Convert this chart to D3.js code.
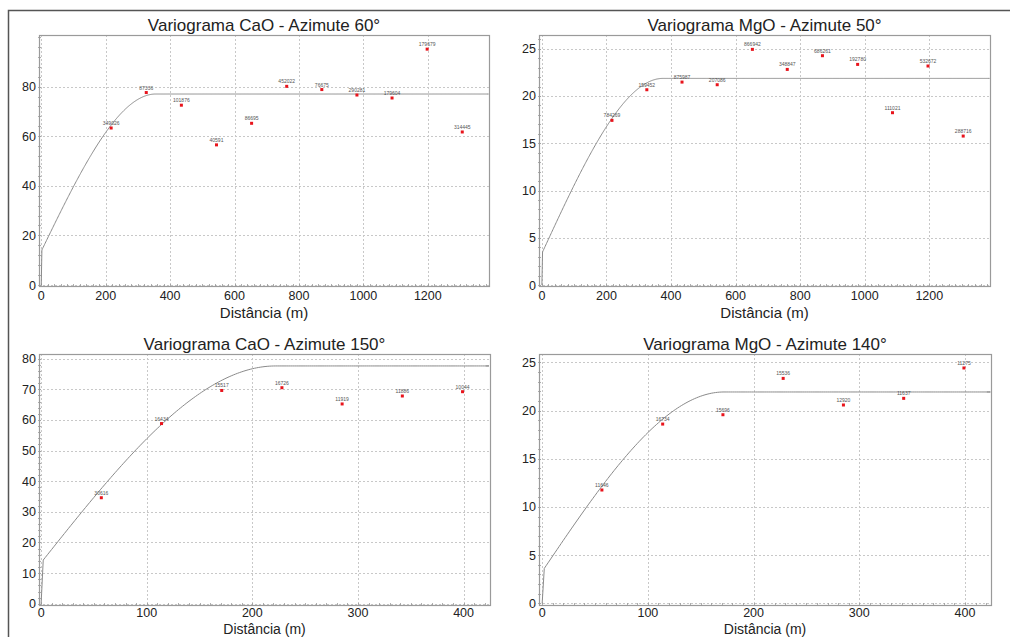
<!DOCTYPE html>
<html>
<head>
<meta charset="utf-8">
<script src="https://cdn.jsdelivr.net/npm/d3@7"></script>
<style>
  html, body { margin: 0; padding: 0; background: #fff; }
  svg { display: block; font-family: "Liberation Sans", Arial, sans-serif; }
</style>
</head>
<body>
<svg id="chart" width="1010" height="637"></svg>
<script>
// ---- Experimental variogram data (lag distance in m, semivariance, number of pairs) ----
const cao60Lags   = [217, 326, 435, 544, 653, 762, 871, 980, 1089, 1198, 1307];
const cao60Gamma  = [63.3, 77.6, 72.5, 56.5, 65.2, 80.1, 78.8, 76.6, 75.4, 95.1, 61.7];
const cao60Pairs  = ["349026", "87336", "101876", "40591", "86695", "452022", "76675", "290281", "179604", "179679", "314445"];

const mgo50Lags   = [217, 325, 434, 543, 652, 760, 869, 978, 1086, 1196, 1305];
const mgo50Gamma  = [17.42, 20.66, 21.47, 21.19, 24.93, 22.81, 24.26, 23.34, 18.23, 23.17, 15.76];
const mgo50Pairs  = ["784269", "159452", "875987", "207086", "866942", "348847", "686261", "192780", "111021", "532672", "288716"];

const cao150Lags  = [57, 114, 171, 228, 285, 342, 399];
const cao150Gamma = [34.6, 58.8, 69.6, 70.5, 65.2, 67.8, 69.2];
const cao150Pairs = ["30616", "16434", "15517", "16726", "11919", "11886", "10044"];

const mgo140Lags  = [56.5, 114, 171, 228, 285, 342, 399];
const mgo140Gamma = [11.76, 18.6, 19.57, 23.34, 20.58, 21.27, 24.42];
const mgo140Pairs = ["11646", "16734", "15696", "15536", "12920", "11637", "11275"];

// ---- Spherical model parameters for each panel ----
const modelNugget = [13.6, 3.35, 13.4, 3.3];
const modelSill   = [77.0, 21.86, 77.6, 21.93];
const modelRange  = [355, 375, 222, 172];

// ---- Titles and tick values ----
const panelTitles = [
  "Variograma CaO - Azimute 60°",
  "Variograma MgO - Azimute 50°",
  "Variograma CaO - Azimute 150°",
  "Variograma MgO - Azimute 140°"
];
const xTicksLong  = [0, 200, 400, 600, 800, 1000, 1200];
const xTicksShort = [0, 100, 200, 300, 400];
const yTicksCaO60  = [0, 20, 40, 60, 80];
const yTicksCaO150 = [0, 10, 20, 30, 40, 50, 60, 70, 80];
const yTicksMgO    = [0, 5, 10, 15, 20, 25];
const xAxisTitle = "Distância (m)";

// Panels: data + frame geometry
const panels = [
  { lags: cao60Lags,  gamma: cao60Gamma,  pairs: cao60Pairs,  title: panelTitles[0],
    xDom: [-7, 1390], yDom: [-0.4, 100.8], xTicks: xTicksLong,  yTicks: yTicksCaO60,
    xMinor: 20, yMinor: 4, box: { l: 39, r: 489, t: 35, b: 286 }, titleY: 31, tickY: 300, axisTitleY: 318, axisFont: 15 },
  { lags: mgo50Lags,  gamma: mgo50Gamma,  pairs: mgo50Pairs,  title: panelTitles[1],
    xDom: [-9, 1388], yDom: [-0.1, 26.45], xTicks: xTicksLong,  yTicks: yTicksMgO,
    xMinor: 20, yMinor: 1, box: { l: 539, r: 990, t: 35, b: 286 }, titleY: 31, tickY: 300, axisTitleY: 318, axisFont: 15 },
  { lags: cao150Lags, gamma: cao150Gamma, pairs: cao150Pairs, title: panelTitles[2],
    xDom: [-2, 425],  yDom: [-0.4, 81.5],  xTicks: xTicksShort, yTicks: yTicksCaO150,
    xMinor: 10, yMinor: 2, box: { l: 39, r: 490, t: 354, b: 605 }, titleY: 350, tickY: 617, axisTitleY: 634, axisFont: 14 },
  { lags: mgo140Lags, gamma: mgo140Gamma, pairs: mgo140Pairs, title: panelTitles[3],
    xDom: [-3, 424.6], yDom: [-0.17, 25.87], xTicks: xTicksShort, yTicks: yTicksMgO,
    xMinor: 10, yMinor: 1, box: { l: 539, r: 991, t: 354, b: 605 }, titleY: 350, tickY: 617, axisTitleY: 634, axisFont: 14 }
];

const svg = d3.select("#chart");

// outer frame (top and left edges)
svg.append("path")
  .attr("d", "M8.5,637 V10.5 H1010")
  .attr("fill", "none").attr("stroke", "#555").attr("stroke-width", 1.5);

function spherical(h, c0, sill, a) {
  if (h <= 0) return 0;
  if (h >= a) return sill;
  const r = h / a;
  return c0 + (sill - c0) * (1.5 * r - 0.5 * r * r * r);
}

panels.forEach((p, i) => {
  const { l, r, t, b } = p.box;
  const x = d3.scaleLinear().domain(p.xDom).range([l, r]);
  const y = d3.scaleLinear().domain(p.yDom).range([b, t]);
  const g = svg.append("g");

  // title
  g.append("text")
    .attr("x", (l + r) / 2).attr("y", p.titleY)
    .attr("text-anchor", "middle")
    .attr("font-size", 17).attr("fill", "#222")
    .text(p.title);

  // grid
  g.append("g").selectAll("line.vg").data(p.xTicks).join("line")
    .attr("x1", d => Math.round(x(d)) + 0.5).attr("x2", d => Math.round(x(d)) + 0.5)
    .attr("y1", t).attr("y2", b)
    .attr("stroke", "#c8c8c8").attr("stroke-dasharray", "2,2");
  g.append("g").selectAll("line.hg").data(p.yTicks).join("line")
    .attr("y1", d => Math.round(y(d)) + 0.5).attr("y2", d => Math.round(y(d)) + 0.5)
    .attr("x1", l).attr("x2", r)
    .attr("stroke", "#c8c8c8").attr("stroke-dasharray", "2,2");

  // minor ticks on left and bottom edges
  const xm = d3.range(0, p.xDom[1], p.xMinor);
  const ym = d3.range(0, p.yDom[1], p.yMinor);
  g.append("g").selectAll("line").data(xm).join("line")
    .attr("x1", d => Math.round(x(d)) + 0.5).attr("x2", d => Math.round(x(d)) + 0.5)
    .attr("y1", b - 2).attr("y2", b + 1)
    .attr("stroke", "#999").attr("stroke-width", 0.8);
  g.append("g").selectAll("line").data(ym).join("line")
    .attr("y1", d => Math.round(y(d)) + 0.5).attr("y2", d => Math.round(y(d)) + 0.5)
    .attr("x1", l - 1).attr("x2", l + 2)
    .attr("stroke", "#999").attr("stroke-width", 0.8);

  // plot frame
  g.append("rect")
    .attr("x", l + 0.5).attr("y", t + 0.5)
    .attr("width", r - l).attr("height", b - t)
    .attr("fill", "none").attr("stroke", "#9a9a9a").attr("stroke-width", 1.2);

  // tick labels
  g.append("g").selectAll("text").data(p.yTicks).join("text")
    .attr("x", l - 3).attr("y", d => y(d) + 4.5)
    .attr("text-anchor", "end").attr("font-size", 12.5).attr("fill", "#222")
    .text(d => d);
  g.append("g").selectAll("text").data(p.xTicks).join("text")
    .attr("x", d => x(d)).attr("y", p.tickY)
    .attr("text-anchor", "middle").attr("font-size", 12.5).attr("fill", "#222")
    .text(d => d);

  // axis title
  g.append("text")
    .attr("x", (l + r) / 2).attr("y", p.axisTitleY)
    .attr("text-anchor", "middle").attr("font-size", p.axisFont).attr("fill", "#222")
    .text(xAxisTitle);

  // model curve
  const c0 = modelNugget[i], sill = modelSill[i], a = modelRange[i];
  const hs = [0].concat(d3.range(2, p.xDom[1], 2), [p.xDom[1] - 4]);
  const line = d3.line().x(d => x(d)).y(d => y(spherical(d, c0, sill, a)));
  g.append("path")
    .attr("d", line(hs))
    .attr("fill", "none").attr("stroke", "#8a8a8a").attr("stroke-width", 1);

  // experimental points and pair counts
  const pts = p.lags.map((h, k) => ({ h, v: p.gamma[k], n: p.pairs[k] }));
  g.append("g").selectAll("text").data(pts).join("text")
    .attr("x", d => x(d.h)).attr("y", d => y(d.v) - 3)
    .attr("text-anchor", "middle").attr("font-size", 5).attr("fill", "#555")
    .text(d => d.n);
  g.append("g").selectAll("rect").data(pts).join("rect")
    .attr("x", d => x(d.h) - 1.5).attr("y", d => y(d.v) - 1.5)
    .attr("width", 3).attr("height", 3)
    .attr("fill", "#e8141c");
});
</script>
</body>
</html>
